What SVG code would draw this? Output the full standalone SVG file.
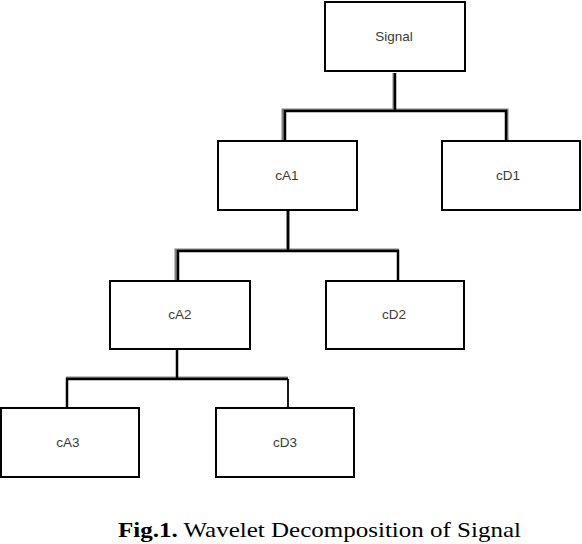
<svg xmlns="http://www.w3.org/2000/svg" width="582" height="544" viewBox="0 0 582 544">
<style>
.box{fill:#fff;stroke:#000;stroke-width:2}
.lbl{font-family:"Liberation Sans",Arial,sans-serif;font-size:13.5px;fill:#3a3a3a;text-anchor:middle}
.sh{fill:none;stroke:#808080;stroke-width:3;stroke-linejoin:miter}
.ln{fill:none;stroke:#000;stroke-width:2.5;stroke-linejoin:miter}
.cap{font-family:"Liberation Serif","Times New Roman",serif;font-size:22px;fill:#000}
</style>
<rect width="582" height="544" fill="#fff"/>
<g id="connectors">
<path class="sh" d="M394 73V110M283 140V110H507V140"/>
<path class="ln" d="M395 73V111M285 140V111H506V140"/>
<path class="sh" d="M288 211V250M176 280V250H399"/>
<path class="ln" d="M288 211V251M178 280V251H398V280"/>
<path class="sh" d="M66 378H288"/>
<path class="ln" d="M177 350V379M67 407V379H288"/>
<path fill="none" stroke="#000" stroke-width="1.8" d="M288 379V407"/>
</g>
<g id="signal"><rect class="box" x="325" y="2" width="140" height="69"/><text class="lbl" x="394" y="41">Signal</text></g>
<g id="cA1"><rect class="box" x="218" y="141" width="139" height="69"/><text class="lbl" x="287" y="180">cA1</text></g>
<g id="cD1"><rect class="box" x="442" y="141" width="138" height="69"/><text class="lbl" x="508" y="180">cD1</text></g>
<g id="cA2"><rect class="box" x="110" y="281" width="140" height="68"/><text class="lbl" x="180" y="319">cA2</text></g>
<g id="cD2"><rect class="box" x="326" y="281" width="138" height="68"/><text class="lbl" x="394" y="319">cD2</text></g>
<g id="cA3"><rect class="box" x="1" y="408" width="138" height="69"/><text class="lbl" x="68" y="447">cA3</text></g>
<g id="cD3"><rect class="box" x="216" y="408" width="138" height="69"/><text class="lbl" x="285" y="447">cD3</text></g>
<text class="cap" x="118" y="537" textLength="403" lengthAdjust="spacingAndGlyphs"><tspan font-weight="bold">Fig.1.</tspan> Wavelet Decomposition of Signal</text>
</svg>
